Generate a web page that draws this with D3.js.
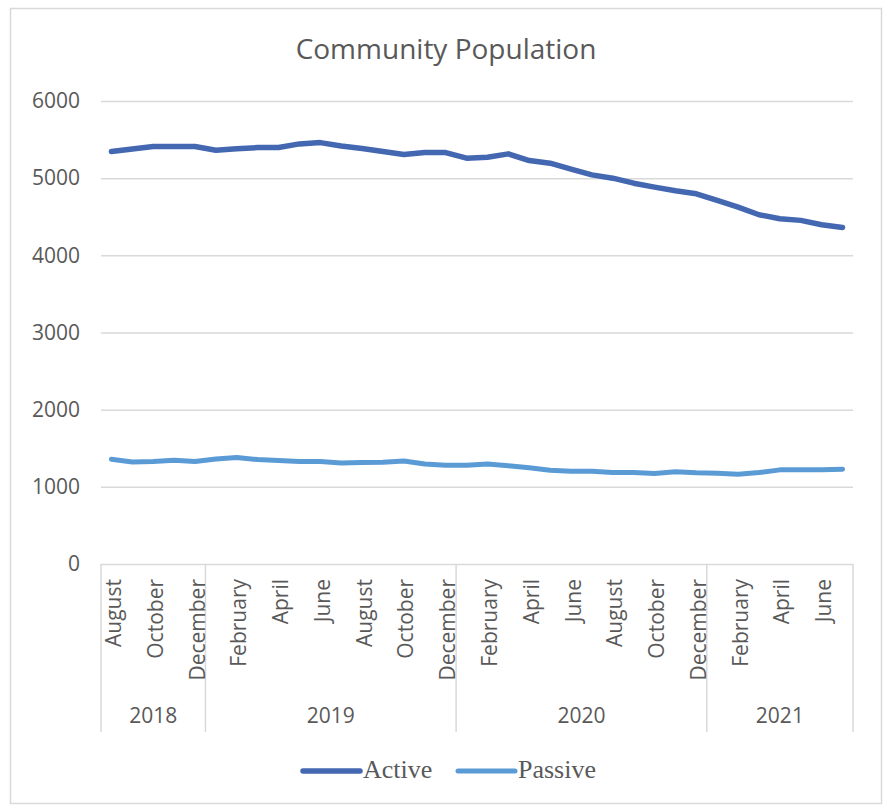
<!DOCTYPE html>
<html>
<head>
<meta charset="utf-8">
<script src="https://cdn.jsdelivr.net/npm/d3@7"></script>
<style>
  body { margin: 0; background: #fff; }
</style>
</head>
<body>
<script>
// chart data, Aug 2018 .. Jul 2021
var months = ['August', 'September', 'October', 'November', 'December',
  'January', 'February', 'March', 'April', 'May', 'June', 'July', 'August', 'September', 'October', 'November', 'December',
  'January', 'February', 'March', 'April', 'May', 'June', 'July', 'August', 'September', 'October', 'November', 'December',
  'January', 'February', 'March', 'April', 'May', 'June', 'July'];
var yearNames = ['2018', '2019', '2020', '2021'];
var yearCounts = [5, 12, 12, 7];

var active = [5345, 5379, 5409, 5410, 5410, 5362, 5380, 5397, 5397, 5444, 5461, 5418,
  5384, 5345, 5306, 5332, 5332, 5259, 5272, 5315, 5228, 5194, 5116, 5043,
  5000, 4935, 4884, 4836, 4797, 4711, 4625, 4526, 4474, 4453, 4397, 4362];
var passive = [1358, 1323, 1328, 1345, 1328, 1362, 1379, 1353, 1340, 1328, 1328, 1310,
  1315, 1319, 1336, 1297, 1280, 1280, 1297, 1272, 1246, 1216, 1203, 1203,
  1185, 1185, 1172, 1194, 1181, 1177, 1164, 1185, 1220, 1220, 1220, 1228];

var yTicks = [0, 1000, 2000, 3000, 4000, 5000, 6000];

var series = [
  { name: 'Active', values: active, color: '#4467b1', width: 5.5 },
  { name: 'Passive', values: passive, color: '#5b9bd5', width: 5 }
];

var W = 888, H = 806;
var plotLeft = 101, plotRight = 853, plotTop = 101, plotBottom = 564;
var grey = '#595959';
var lineGrey = '#d9d9d9';
var font = '"Open Sans", sans-serif';

var svg = d3.select('body').append('svg')
  .attr('width', W)
  .attr('height', H);

// outer chart border
svg.append('rect')
  .attr('x', 10.5).attr('y', 8.5)
  .attr('width', 871).attr('height', 795)
  .attr('fill', 'white')
  .attr('stroke', lineGrey)
  .attr('stroke-width', 1.5);

// title
svg.append('text')
  .attr('x', 446).attr('y', 59)
  .attr('text-anchor', 'middle')
  .attr('font-family', font)
  .attr('font-size', 28)
  .attr('fill', grey)
  .text('Community Population');

var x = d3.scaleBand()
  .domain(d3.range(months.length))
  .range([plotLeft, plotRight]);

var y = d3.scaleLinear()
  .domain([0, 6000])
  .range([plotBottom, plotTop]);

// y axis with gridlines
var yAxis = svg.append('g')
  .attr('transform', 'translate(' + plotLeft + ',0)')
  .call(d3.axisLeft(y).tickValues(yTicks).tickSize(-(plotRight - plotLeft)).tickPadding(21).tickFormat(d3.format('d')));

yAxis.select('.domain').remove();
yAxis.selectAll('.tick line')
  .attr('stroke', lineGrey)
  .attr('stroke-width', 1.5);
yAxis.selectAll('.tick text')
  .attr('font-family', font)
  .attr('font-size', 21)
  .attr('fill', grey);

// multi-level category axis
var boxBottom = 732;
var xAxis = svg.append('g');

var bounds = [0];
yearCounts.forEach((n, i) => { bounds.push(bounds[i] + n); });

bounds.forEach((b) => {
  var bx = b < months.length ? x(b) : plotRight;
  xAxis.append('line')
    .attr('x1', bx).attr('x2', bx)
    .attr('y1', plotBottom).attr('y2', boxBottom)
    .attr('stroke', lineGrey)
    .attr('stroke-width', 1.5);
});

months.forEach((m, i) => {
  if (i % 2 != 0) return;
  var cx = x(i) + x.bandwidth() / 2 + 2;
  xAxis.append('text')
    .attr('transform', 'translate(' + cx + ',579) rotate(-90)')
    .attr('text-anchor', 'end')
    .attr('dy', '0.36em')
    .attr('font-family', font)
    .attr('font-size', 21)
    .attr('fill', grey)
    .text(m);
});

yearNames.forEach((yr, i) => {
  var x0 = x(bounds[i]);
  var x1 = bounds[i + 1] < months.length ? x(bounds[i + 1]) : plotRight;
  xAxis.append('text')
    .attr('x', (x0 + x1) / 2)
    .attr('y', 723)
    .attr('text-anchor', 'middle')
    .attr('font-family', font)
    .attr('font-size', 21)
    .attr('fill', grey)
    .text(yr);
});

// lines
var line = d3.line()
  .x((d, i) => x(i) + x.bandwidth() / 2)
  .y(d => y(d));

series.forEach((s) => {
  svg.append('path')
    .datum(s.values)
    .attr('d', line)
    .attr('fill', 'none')
    .attr('stroke', s.color)
    .attr('stroke-width', s.width)
    .attr('stroke-linejoin', 'round')
    .attr('stroke-linecap', 'round');
});

// legend
var legendX = [303, 458];
series.forEach((s, i) => {
  var lg = svg.append('g').attr('transform', 'translate(' + legendX[i] + ',771)');
  lg.append('line')
    .attr('x1', 0).attr('x2', 57)
    .attr('stroke', s.color)
    .attr('stroke-width', s.width)
    .attr('stroke-linecap', 'round');
  lg.append('text')
    .attr('x', 60).attr('y', 7)
    .attr('font-family', '"Liberation Serif", serif')
    .attr('font-size', 26)
    .attr('fill', grey)
    .text(s.name);
});
</script>
</body>
</html>
